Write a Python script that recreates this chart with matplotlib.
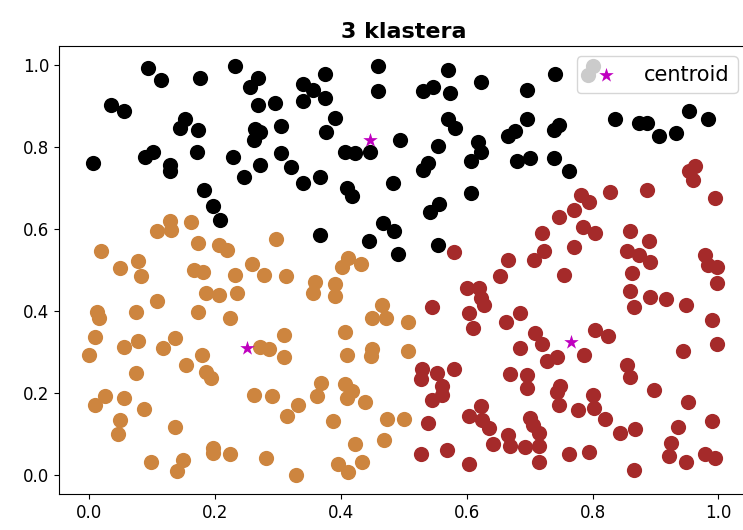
import matplotlib.pyplot as plt
import numpy as np

# cluster 0 (black)
x_black = [0.094, 0.114, 0.176, 0.232, 0.269, 0.256, 0.035, 0.056, 0.269, 0.296,
           0.153, 0.145, 0.173, 0.305, 0.264, 0.272, 0.262, 0.102, 0.089, 0.172,
           0.229, 0.305, 0.006, 0.129, 0.129, 0.272, 0.246, 0.183, 0.196, 0.208,
           0.320, 0.340, 0.367, 0.410, 0.418, 0.483, 0.531, 0.539, 0.606, 0.607,
           0.556, 0.541, 0.467, 0.485, 0.367, 0.444, 0.555, 0.491, 0.459, 0.571,
           0.374, 0.623, 0.340, 0.356, 0.340, 0.374, 0.459, 0.531, 0.547, 0.574,
           0.390, 0.377, 0.571, 0.582, 0.494, 0.555, 0.618, 0.623, 0.665, 0.676,
           0.407, 0.423, 0.447, 0.741, 0.695, 0.695, 0.747, 0.739, 0.836, 0.873,
           0.887, 0.906, 0.933, 0.954, 0.984, 0.680, 0.701, 0.738, 0.762, 0.792,
           0.800]
y_black = [0.993, 0.963, 0.968, 0.998, 0.968, 0.946, 0.902, 0.888, 0.902, 0.907,
           0.868, 0.846, 0.841, 0.851, 0.844, 0.837, 0.817, 0.788, 0.776, 0.788,
           0.776, 0.785, 0.761, 0.756, 0.741, 0.756, 0.727, 0.695, 0.656, 0.622,
           0.751, 0.712, 0.727, 0.700, 0.680, 0.712, 0.744, 0.761, 0.766, 0.688,
           0.661, 0.641, 0.615, 0.595, 0.585, 0.571, 0.561, 0.539, 0.998, 0.988,
           0.978, 0.959, 0.954, 0.939, 0.912, 0.920, 0.937, 0.937, 0.946, 0.932,
           0.871, 0.837, 0.868, 0.846, 0.817, 0.802, 0.812, 0.788, 0.827, 0.839,
           0.788, 0.785, 0.788, 0.978, 0.939, 0.868, 0.854, 0.841, 0.868, 0.859,
           0.859, 0.827, 0.834, 0.888, 0.868, 0.766, 0.773, 0.773, 0.741, 0.976,
           0.998]

# cluster 1 (orange)
x_orange = [0.129, 0.107, 0.130, 0.161, 0.297, 0.173, 0.207, 0.219, 0.019, 0.078,
            0.049, 0.258, 0.167, 0.181, 0.083, 0.232, 0.278, 0.312, 0.186, 0.207,
            0.235, 0.108, 0.013, 0.016, 0.075, 0.173, 0.223, 0.010, 0.078, 0.137,
            0.056, 0.118, 0.000, 0.180, 0.154, 0.186, 0.194, 0.075, 0.272, 0.286,
            0.310, 0.310, 0.025, 0.010, 0.056, 0.087, 0.262, 0.291, 0.315, 0.049,
            0.045, 0.137, 0.196, 0.196, 0.223, 0.281, 0.099, 0.149, 0.140, 0.328,
            0.369, 0.362, 0.332, 0.407, 0.418, 0.410, 0.439, 0.388, 0.474, 0.501,
            0.469, 0.423, 0.396, 0.412, 0.434, 0.359, 0.356, 0.390, 0.390, 0.466,
            0.450, 0.471, 0.506, 0.407, 0.410, 0.450, 0.448, 0.507, 0.412, 0.432,
            0.402]
y_orange = [0.620, 0.595, 0.598, 0.617, 0.576, 0.566, 0.561, 0.549, 0.546, 0.522,
            0.505, 0.515, 0.500, 0.495, 0.485, 0.488, 0.488, 0.485, 0.444, 0.439,
            0.444, 0.424, 0.398, 0.383, 0.398, 0.398, 0.383, 0.337, 0.327, 0.334,
            0.312, 0.310, 0.293, 0.293, 0.268, 0.251, 0.237, 0.249, 0.312, 0.307,
            0.341, 0.288, 0.193, 0.171, 0.188, 0.161, 0.195, 0.193, 0.144, 0.134,
            0.100, 0.117, 0.066, 0.054, 0.051, 0.041, 0.032, 0.037, 0.010, 0.000,
            0.224, 0.193, 0.171, 0.222, 0.205, 0.188, 0.178, 0.132, 0.137, 0.137,
            0.085, 0.076, 0.027, 0.007, 0.032, 0.471, 0.444, 0.466, 0.437, 0.415,
            0.383, 0.383, 0.373, 0.349, 0.293, 0.307, 0.290, 0.302, 0.529, 0.515,
            0.507]

# cluster 2 (red)
x_red = [0.580, 0.665, 0.653, 0.601, 0.620, 0.628, 0.622, 0.545, 0.603, 0.610,
         0.663, 0.529, 0.528, 0.553, 0.580, 0.668, 0.561, 0.545, 0.561, 0.539,
         0.528, 0.568, 0.603, 0.603, 0.623, 0.625, 0.636, 0.641, 0.665, 0.668,
         0.695, 0.749, 0.744, 0.747, 0.801, 0.803, 0.777, 0.820, 0.898, 0.951,
         0.990, 0.701, 0.706, 0.715, 0.692, 0.715, 0.715, 0.762, 0.795, 0.843,
         0.868, 0.866, 0.935, 0.925, 0.922, 0.948, 0.978, 0.994, 0.755, 0.863,
         0.998, 0.859, 0.892, 0.916, 0.866, 0.948, 0.685, 0.990, 0.709, 0.719,
         0.685, 0.804, 0.824, 0.744, 0.728, 0.787, 0.944, 0.997, 0.854, 0.859,
         0.695, 0.954, 0.963, 0.959, 0.827, 0.886, 0.995, 0.781, 0.795, 0.771,
         0.746, 0.784, 0.804, 0.719, 0.859, 0.889, 0.771, 0.722, 0.707, 0.855,
         0.873, 0.892, 0.978, 0.983, 0.997]
y_red = [0.544, 0.524, 0.485, 0.456, 0.456, 0.415, 0.432, 0.410, 0.395, 0.359,
         0.373, 0.259, 0.234, 0.249, 0.259, 0.246, 0.217, 0.183, 0.195, 0.127,
         0.051, 0.061, 0.027, 0.144, 0.168, 0.134, 0.115, 0.076, 0.098, 0.071,
         0.212, 0.217, 0.202, 0.171, 0.195, 0.163, 0.159, 0.137, 0.207, 0.178,
         0.132, 0.139, 0.122, 0.102, 0.068, 0.071, 0.032, 0.051, 0.056, 0.102,
         0.112, 0.012, 0.117, 0.078, 0.046, 0.032, 0.051, 0.041, 0.488, 0.493,
         0.468, 0.449, 0.434, 0.429, 0.410, 0.415, 0.395, 0.378, 0.346, 0.320,
         0.310, 0.354, 0.339, 0.288, 0.278, 0.293, 0.302, 0.320, 0.268, 0.239,
         0.244, 0.741, 0.754, 0.720, 0.690, 0.695, 0.676, 0.683, 0.666, 0.646,
         0.629, 0.605, 0.590, 0.590, 0.595, 0.571, 0.556, 0.546, 0.524, 0.546,
         0.537, 0.520, 0.537, 0.512, 0.507]

x_centroid = [0.447, 0.251, 0.766]
y_centroid = [0.817, 0.310, 0.324]

plt.rcParams['font.size'] = 12

fig = plt.figure(figsize=(7.43, 5.30), dpi=100)
ax = fig.add_axes([59 / 743, 36 / 530, 689 / 743, 448 / 530])

ax.scatter(x_black, y_black, s=120, c='black', linewidths=0)
ax.scatter(x_orange, y_orange, s=120, c='peru', linewidths=0)
ax.scatter(x_red, y_red, s=120, c='brown', linewidths=0)
ax.scatter(x_centroid, y_centroid, s=120, c='m', marker='*', linewidths=0,
           label='centroid', zorder=3)

ax.set_xlim(-0.048, 1.047)
ax.set_ylim(-0.046, 1.046)
ax.set_xticks(np.arange(0, 1.01, 0.2))
ax.set_yticks(np.arange(0, 1.01, 0.2))
ax.set_title('3 klastera', fontweight='bold', fontsize=16)
ax.legend(loc='upper right', fontsize=15)

fig.savefig('out.png', dpi=100)
